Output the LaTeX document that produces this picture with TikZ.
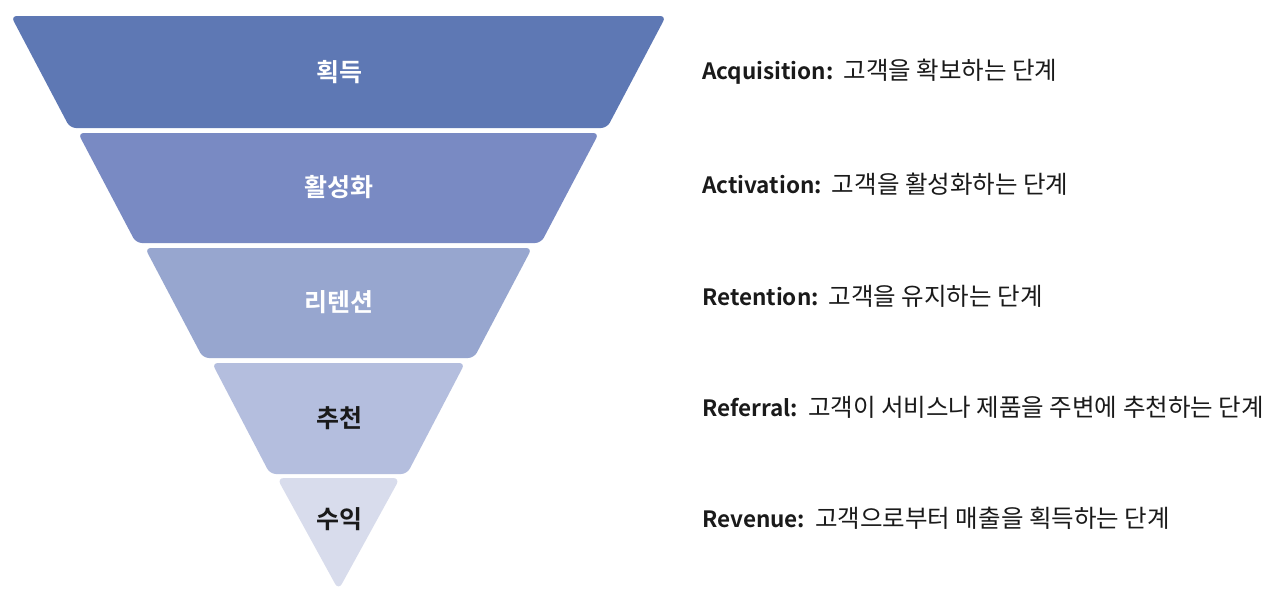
\documentclass[tikz,border=0pt]{standalone}
\usepackage{fontspec}
\newfontfamily\kr{Noto Sans CJK KR}[BoldFont={Noto Sans CJK KR Bold}]
\definecolor{cA}{HTML}{5E78B4}
\definecolor{cB}{HTML}{798AC3}
\definecolor{cC}{HTML}{97A6CF}
\definecolor{cD}{HTML}{B4BEDE}
\definecolor{cE}{HTML}{D8DCEC}
\definecolor{ink}{HTML}{1A1A1A}
\newcommand{\lat}[1]{{\fontsize{22.5}{26}\selectfont\bfseries #1}}
\begin{document}
\begin{tikzpicture}[x=1pt,y=-1pt,
  layer/.style={rounded corners=6pt},
  lbl/.style={font=\kr\bfseries\fontsize{25}{28}\selectfont, inner sep=0pt, anchor=center},
  desc/.style={font=\kr\fontsize{24.5}{28}\selectfont, text=ink, inner sep=0pt, anchor=west}]
\useasboundingbox[fill=white] (0,0) rectangle (1280,589);
% layers
\fill[layer, fill=cA] (11,16) -- (666,16) -- (607,128) -- (70,128) -- cycle;
\fill[layer, fill=cB] (78,133) -- (599,133) -- (541,243) -- (136,243) -- cycle;
\fill[layer, fill=cC] (145,248) -- (532,248) -- (474,358) -- (203,358) -- cycle;
\fill[layer, fill=cD] (212,363) -- (465,363) -- (407,474) -- (270,474) -- cycle;
\fill[rounded corners=7pt, fill=cE] (277,478) -- (400,478) -- (338.5,590) -- cycle;
% labels
\node[lbl, text=white] (l1) at (339,72) {획득};
\node[lbl, text=white] (l2) at (339,187) {활성화};
\node[lbl, text=white] (l3) at (339,302) {리텐션};
\node[lbl, text=ink] (l4) at (339,418) {추천};
\node[lbl, text=ink] (l5) at (339,519) {수익};
% descriptions
\node[desc] (d1) at (702,72) {\lat{Acquisition:}\hspace{10pt}고객을 확보하는 단계};
\node[desc] (d2) at (702,184) {\lat{Activation:}\hspace{10pt}고객을 활성화하는 단계};
\node[desc] (d3) at (702,296) {\lat{Retention:}\hspace{10pt}고객을 유지하는 단계};
\node[desc] (d4) at (702,407) {\lat{Referral:}\hspace{10pt}고객이 서비스나 제품을 주변에 추천하는 단계};
\node[desc] (d5) at (702,518) {\lat{Revenue:}\hspace{10pt}고객으로부터 매출을 획득하는 단계};
\end{tikzpicture}
\end{document}
